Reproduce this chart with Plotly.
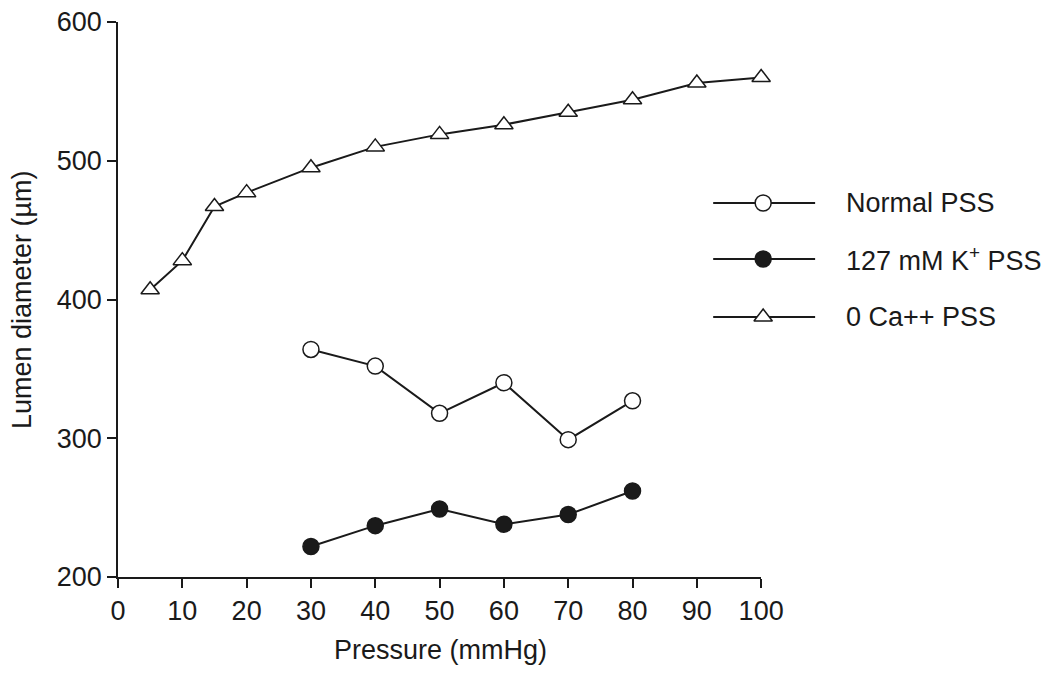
import plotly.graph_objects as go

pressure_tri = [5, 10, 15, 20, 30, 40, 50, 60, 70, 80, 90, 100]
ca0_pss = [407, 428, 467, 477, 495, 510, 519, 526, 535, 544, 556, 560]

pressure_circ = [30, 40, 50, 60, 70, 80]
normal_pss = [364, 352, 318, 340, 299, 327]
k127_pss = [222, 237, 249, 238, 245, 262]

x_ticks = [0, 10, 20, 30, 40, 50, 60, 70, 80, 90, 100]
y_ticks = [200, 300, 400, 500, 600]

legend_names = ["Normal PSS", "127 mM K<sup>+</sup> PSS", "0 Ca++ PSS"]

FONT = "Liberation Sans, Arial, Helvetica, sans-serif"
BLACK = "#1a1a1a"
FS = 27
MS = 16

OFF = 8  # default page body margin
W, H = 1050 - OFF, 676 - OFF
# page-pixel geometry of the reference, converted to figure pixels
ml = 117.5 - OFF
mt = 22 - OFF
mb = H - (577 - OFF)
mr = 12
xend = 761 - OFF
pw = W - ml - mr
ph = H - mt - mb


def pxx(p):
    return (p - OFF - ml) / pw


def pxy(p):
    return (H - mb - (p - OFF)) / ph


fig = go.Figure()

styles = [
    dict(symbol="circle", color="white"),
    dict(symbol="circle", color=BLACK),
    dict(symbol="triangle-up", color="white"),
]
series = [
    (pressure_circ, normal_pss, styles[0]),
    (pressure_circ, k127_pss, styles[1]),
    (pressure_tri, ca0_pss, styles[2]),
]
for xs, ys, st in series:
    fig.add_trace(go.Scatter(x=xs, y=ys, mode="lines+markers", cliponaxis=False,
                             line=dict(color=BLACK, width=2),
                             marker=dict(size=MS, line=dict(color=BLACK, width=1.5), **st),
                             showlegend=False))

# custom legend drawn on a hidden axis measured in page pixels
leg_rows_px = [203, 259, 317]
leg_x0, leg_xm, leg_x1, leg_text_x = 713, 763, 815, 844
for row, name, st in zip(leg_rows_px, legend_names, styles):
    fig.add_trace(go.Scatter(x=[leg_x0, leg_x1], y=[row, row], mode="lines",
                             xaxis="x2", yaxis="y2", cliponaxis=False,
                             line=dict(color=BLACK, width=2), showlegend=False,
                             hoverinfo="skip"))
    fig.add_trace(go.Scatter(x=[leg_xm], y=[row], mode="markers", xaxis="x2", yaxis="y2",
                             cliponaxis=False,
                             marker=dict(size=MS, line=dict(color=BLACK, width=1.5), **st),
                             showlegend=False, hoverinfo="skip"))
    fig.add_annotation(x=leg_text_x, y=row, xref="x2", yref="y2", text=name,
                       showarrow=False, xanchor="left", yanchor="middle",
                       font=dict(family=FONT, size=FS, color=BLACK))

# axis titles
fig.add_annotation(x=pxx(440), y=pxy(650), xref="paper", yref="paper",
                   text="Pressure (mmHg)", showarrow=False, xanchor="center",
                   yanchor="middle", font=dict(family=FONT, size=FS, color=BLACK))
fig.add_annotation(x=pxx(21), y=0.5, xref="paper", yref="paper",
                   text="Lumen diameter (µm)", showarrow=False, textangle=-90,
                   xanchor="center", yanchor="middle",
                   font=dict(family=FONT, size=FS, color=BLACK))

axis_common = dict(showgrid=False, zeroline=False, showline=True, linecolor=BLACK,
                   linewidth=1.5, ticks="outside", ticklen=9, tickwidth=1.5,
                   tickcolor=BLACK, tickfont=dict(size=FS), automargin=False,
                   ticklabeloverflow="allow")

fig.update_layout(
    width=W, height=H,
    margin=dict(l=ml, r=mr, t=mt, b=mb),
    plot_bgcolor="rgba(0,0,0,0)", paper_bgcolor="white",
    font=dict(family=FONT, size=FS, color=BLACK),
    xaxis=dict(domain=[0, (xend - ml) / pw], range=[0, 100], tickvals=x_ticks,
               **axis_common),
    yaxis=dict(range=[200, 600], tickvals=y_ticks, ticksuffix="\u2009", **axis_common),
    xaxis2=dict(domain=[0, 1], range=[ml + OFF, W - mr + OFF], visible=False,
                anchor="y2"),
    yaxis2=dict(domain=[0, 1], range=[H - mb + OFF, mt + OFF], visible=False,
                anchor="x2"),
)

fig.write_html("out.html")
